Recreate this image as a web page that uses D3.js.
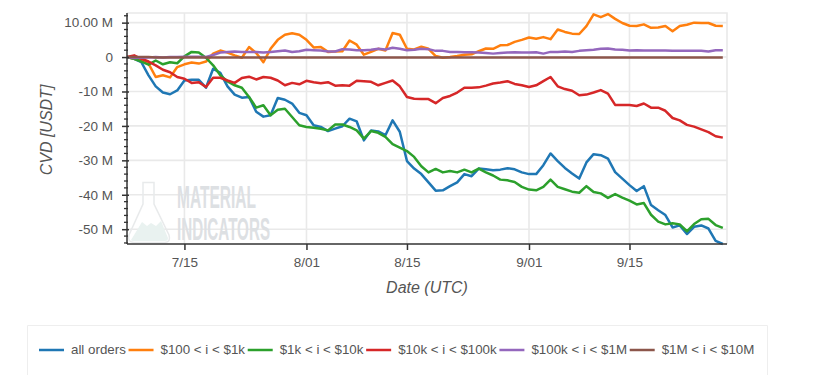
<!DOCTYPE html>
<html>
<head>
<meta charset="utf-8">
<script src="https://cdn.jsdelivr.net/npm/d3@7"></script>
<style>
  html, body { margin: 0; padding: 0; background: #fff; overflow: hidden; }
  svg { display: block; font-family: "Liberation Sans", Arial, sans-serif; }
</style>
</head>
<body>
<svg id="drawing_region" width="828" height="375"></svg>
<script>
// daily values in million USDT, first value is 7/7
const all_orders = [0,-0.5,-1.5,-5.3,-8.5,-10.3,-10.8,-9.7,-6.8,-6.6,-6.6,-8.9,-3.4,-4.6,-8.5,-10.9,-11.8,-11.6,-15.9,-17.3,-16.9,-11.9,-12.4,-13.5,-16.2,-16.9,-19.8,-20.3,-21.5,-20.8,-20.1,-17.9,-18.7,-24.2,-21.3,-21.6,-22.7,-18.4,-21.7,-30.2,-32.4,-34.0,-36.4,-38.8,-38.7,-37.5,-36.4,-34.0,-34.6,-32.4,-32.6,-32.9,-32.7,-32.3,-32.6,-33.5,-34.0,-34.0,-31.4,-28.0,-30.2,-32.2,-33.8,-35.3,-30.6,-28.2,-28.5,-29.5,-33.4,-35.3,-37.2,-38.9,-37.5,-43.0,-44.5,-45.9,-49.5,-48.9,-51.4,-49.3,-48.9,-49.8,-53.4,-54.3];
const orders_100_1k = [0,-0.5,-1.0,-1.9,-5.8,-5.3,-5.9,-2.9,-2.1,-1.6,-1.9,-1.3,1.0,1.9,1.3,0.5,-0.2,2.9,1.2,-1.5,2.4,5.0,6.5,6.9,6.5,5.0,2.8,2.9,1.5,1.6,1.7,4.8,3.6,0.7,1.5,2.4,1.9,7.0,6.5,2.4,2.2,3.0,2.4,0.3,-0.2,0,0.3,0.7,0.8,1.7,2.5,2.4,3.4,3.5,4.4,5.0,5.7,5.3,5.8,5.2,8.0,7.3,6.8,6.7,9.0,12.4,11.6,12.5,11.1,9.9,9.1,9.0,9.5,8.5,8.6,9.0,7.5,9.0,9.4,10.0,9.9,9.9,9.1,9.0];
const orders_1k_10k = [0,-0.5,-1.3,-2.2,-1.0,-2.1,-1.5,-1.8,0.2,1.5,1.3,-0.2,-2.4,-5.3,-7.1,-8.2,-8.9,-11.6,-14.7,-14.0,-16.9,-15.3,-15.0,-17.4,-19.8,-20.3,-20.5,-20.8,-21.3,-19.6,-19.6,-20.3,-21.3,-23.7,-21.5,-22.0,-23.2,-25.3,-26.3,-27.3,-29.0,-31.7,-33.5,-32.5,-33.5,-33.1,-33.5,-32.7,-33.5,-32.4,-33.5,-34.4,-35.6,-35.8,-36.3,-37.7,-38.5,-38.7,-37.7,-35.6,-37.7,-38.4,-39.1,-39.4,-37.5,-39.2,-39.6,-40.9,-39.8,-40.8,-41.7,-42.8,-42.4,-45.8,-47.8,-48.6,-48.3,-48.6,-50.6,-48.5,-47.1,-47.0,-48.8,-49.6];
const orders_10k_100k = [0,0.5,-0.5,-1.3,-2.4,-3.7,-4.4,-5.8,-6.3,-7.5,-7.3,-8.7,-6.0,-6.0,-6.8,-7.5,-6.1,-5.7,-6.5,-5.8,-6.0,-6.8,-8.2,-7.5,-7.9,-6.9,-7.3,-7.6,-7.3,-8.3,-8.2,-8.3,-6.9,-7.0,-7.2,-8.2,-7.5,-6.8,-8.5,-11.6,-12.1,-12.2,-12.2,-13.4,-11.9,-11.3,-10.3,-8.9,-8.9,-8.8,-8.3,-7.7,-7.4,-7.0,-7.8,-8.2,-8.7,-8.2,-7.0,-5.8,-8.5,-9.3,-9.8,-11.1,-10.9,-10.3,-9.6,-10.6,-13.9,-13.9,-13.9,-14.2,-13.5,-14.7,-14.7,-15.6,-17.7,-18.4,-19.7,-20.2,-21.0,-21.8,-23.0,-23.4];
const orders_100k_1m = [0,-0.3,-0.2,-0.1,0,-0.1,0,0,0.1,0.1,0.1,0,0.6,1.3,1.5,1.6,1.5,1.5,1.5,1.3,1.5,1.7,1.9,1.5,1.7,2.1,2.0,1.9,1.6,1.6,2.3,2.2,2.0,2.0,2.1,2.4,2.2,2.7,2.4,2.0,2.1,2.4,2.3,1.8,1.8,1.5,1.5,1.4,1.4,1.3,1.2,1.0,1.2,1.3,1.4,1.3,1.3,1.4,1.0,1.5,1.5,1.6,1.5,1.8,2.0,2.1,2.4,2.5,2.2,2.1,1.9,2.0,1.9,1.9,1.9,1.9,1.8,1.8,1.8,1.8,1.8,1.6,2.0,2.0];
const orders_1m_10m = [0,0,0,0,-0.1,-0.1,-0.1,-0.1,-0.1,-0.1,-0.1,-0.1,-0.1,-0.1,-0.1,-0.1,-0.1,-0.1,-0.1,-0.1,-0.1,-0.1,-0.1,-0.1,-0.1,-0.1,-0.1,-0.1,-0.1,-0.1,-0.1,-0.1,-0.1,-0.1,-0.1,-0.1,-0.1,-0.1,-0.1,-0.1,-0.1,-0.1,-0.1,-0.1,-0.1,-0.1,-0.1,-0.1,-0.1,-0.1,-0.1,-0.1,-0.1,-0.1,-0.1,-0.1,-0.1,-0.1,-0.1,-0.1,-0.1,-0.1,-0.1,-0.1,-0.1,-0.1,-0.1,-0.1,-0.1,-0.1,-0.1,-0.1,-0.1,-0.1,-0.1,-0.1,-0.1,-0.1,-0.1,-0.1,-0.1,-0.1,-0.1,-0.1];

const series_labels = ["all orders", "$100 < i < $1k", "$1k < i < $10k", "$10k < i < $100k", "$100k < i < $1M", "$1M < i < $10M"];
const series_values = [all_orders, orders_100_1k, orders_1k_10k, orders_10k_100k, orders_100k_1m, orders_1m_10m];
const colors = ["#1f77b4", "#ff7f0e", "#2ca02c", "#d62728", "#9467bd", "#8c564b"];

const y_ticks = [10, 0, -10, -20, -30, -40, -50];
const y_tick_labels = ["10.00 M", "0", "-10 M", "-20 M", "-30 M", "-40 M", "-50 M"];
const y_minor_ticks = [12, 8, 6, 4, 2, -2, -4, -6, -8, -12, -14, -16, -18, -22, -24, -26, -28, -32, -34, -36, -38, -42, -44, -46, -48, -52, -54];
const x_ticks = [[6, 15], [7, 1], [7, 15], [8, 1], [8, 15]].map(d => new Date(Date.UTC(2021, d[0], d[1])));
const x_tick_labels = ["7/15", "8/01", "8/15", "9/01", "9/15"];

const start = new Date(Date.UTC(2021, 6, 7));
const end = new Date(Date.UTC(2021, 8, 28, 14));
const dates = all_orders.map((d, i) => d3.utcDay.offset(start, i));

const frame = { left: 127, right: 727, top: 13, bottom: 244 };
const text_color = "#555";

const svg = d3.select("#drawing_region");

const xscale = d3.scaleUtc().domain([start, end]).range([frame.left, frame.right]);
const yscale = d3.scaleLinear().domain([-54.3, 12.8]).range([frame.bottom, frame.top]);

// frame + grid
const grid = svg.append("g")
    .attr("fill", "none")
    .attr("stroke", "#e9e9e9")
    .attr("stroke-width", 1.6);

grid.selectAll(".gy").data(y_ticks).enter().append("line")
    .attr("x1", frame.left).attr("x2", frame.right)
    .attr("y1", d => yscale(d)).attr("y2", d => yscale(d));

grid.selectAll(".gx").data(x_ticks).enter().append("line")
    .attr("y1", frame.top).attr("y2", frame.bottom)
    .attr("x1", d => xscale(d)).attr("x2", d => xscale(d));

grid.append("path")
    .attr("d", `M${frame.left},${frame.top}H${frame.right}V${frame.bottom}`);

// watermark
const mark = svg.append("g");
mark.append("path")
    .attr("d", "M131,240 L142,222 L147,226 L151,223 L156,226 L161,221 L168,238 Q168,241 165,241 L133,241 Q131,241 131,240 Z")
    .attr("fill", "#e9f2f0");
mark.append("path")
    .attr("d", "M143,182.5 H154 V204 L169,235 Q171,242 165,242.5 H134 Q127,242 129,235 L143,204 Z")
    .attr("fill", "none")
    .attr("stroke", "#e8eaeb")
    .attr("stroke-width", 1.5);
mark.selectAll("text")
    .data(["MATERIAL", "INDICATORS"])
    .enter().append("text")
    .attr("x", 177)
    .attr("y", (d, i) => 208 + i * 32)
    .attr("textLength", (d, i) => i ? 93 : 79)
    .attr("lengthAdjust", "spacingAndGlyphs")
    .attr("font-family", "'Liberation Sans Narrow', 'Liberation Sans', sans-serif")
    .attr("font-weight", "bold")
    .attr("font-size", 31)
    .attr("fill", "#dde0e3")
    .text(d => d);

// series
const line = d3.line()
    .x((d, i) => xscale(dates[i]))
    .y(d => yscale(d));

svg.append("g").selectAll("path")
    .data(series_values)
    .enter().append("path")
    .attr("d", line)
    .attr("fill", "none")
    .attr("stroke", (d, i) => colors[i])
    .attr("stroke-width", 2.5)
    .attr("stroke-linejoin", "round");

// axes
const yaxis = d3.axisLeft(yscale)
    .tickValues(y_ticks)
    .tickFormat((d, i) => y_tick_labels[i])
    .tickSize(5)
    .tickPadding(9);

const yaxis_group = svg.append("g")
    .attr("transform", `translate(${frame.left}, 0)`)
    .call(yaxis);
yaxis_group.select(".domain").attr("d", `M0,${frame.top}V${frame.bottom}`).attr("stroke", "#333").attr("stroke-width", 1.5);
yaxis_group.selectAll(".tick line").attr("x1", 2).attr("stroke", "#333").attr("stroke-width", 1.5);
yaxis_group.selectAll(".tick text")
    .attr("font-family", null)
    .attr("font-size", 13.5)
    .attr("fill", text_color);

svg.append("g")
    .attr("transform", `translate(${frame.left}, 0)`)
    .selectAll("line")
    .data(y_minor_ticks)
    .enter().append("line")
    .attr("x1", -3).attr("x2", 1)
    .attr("y1", d => yscale(d)).attr("y2", d => yscale(d))
    .attr("stroke", "#333")
    .attr("stroke-width", 1.3);

const xaxis = d3.axisBottom(xscale)
    .tickValues(x_ticks)
    .tickFormat((d, i) => x_tick_labels[i])
    .tickSize(6)
    .tickPadding(7);

const xaxis_group = svg.append("g")
    .attr("transform", `translate(0, ${frame.bottom})`)
    .call(xaxis);
xaxis_group.select(".domain").attr("d", `M${frame.left},0H${frame.right}`).attr("stroke", "#333").attr("stroke-width", 1.5);
xaxis_group.selectAll(".tick line").attr("stroke", "#333").attr("stroke-width", 1.5);
xaxis_group.selectAll(".tick text")
    .attr("font-family", null)
    .attr("font-size", 13.5)
    .attr("fill", text_color);

svg.append("text")
    .attr("x", 427)
    .attr("y", 293)
    .attr("text-anchor", "middle")
    .attr("font-size", 16)
    .attr("font-style", "italic")
    .attr("fill", text_color)
    .text("Date (UTC)");

svg.append("text")
    .attr("transform", `translate(52, 130) rotate(-90)`)
    .attr("text-anchor", "middle")
    .attr("font-size", 16)
    .attr("font-style", "italic")
    .attr("fill", text_color)
    .text("CVD [USDT]");

// legend
svg.append("path")
    .attr("d", "M27.5,375V325.5H767.5V375")
    .attr("fill", "none")
    .attr("stroke", "#eeeeee");

let legend_x = 39;
series_labels.forEach((label, i) => {
    svg.append("line")
        .attr("x1", legend_x).attr("x2", legend_x + 25)
        .attr("y1", 350).attr("y2", 350)
        .attr("stroke", colors[i])
        .attr("stroke-width", 2.5);
    const t = svg.append("text")
        .attr("x", legend_x + 32)
        .attr("y", 354)
        .attr("font-size", 13.33)
        .attr("fill", text_color)
        .text(label);
    legend_x += 32 + t.node().getComputedTextLength() + 2.7;
});
</script>
</body>
</html>
